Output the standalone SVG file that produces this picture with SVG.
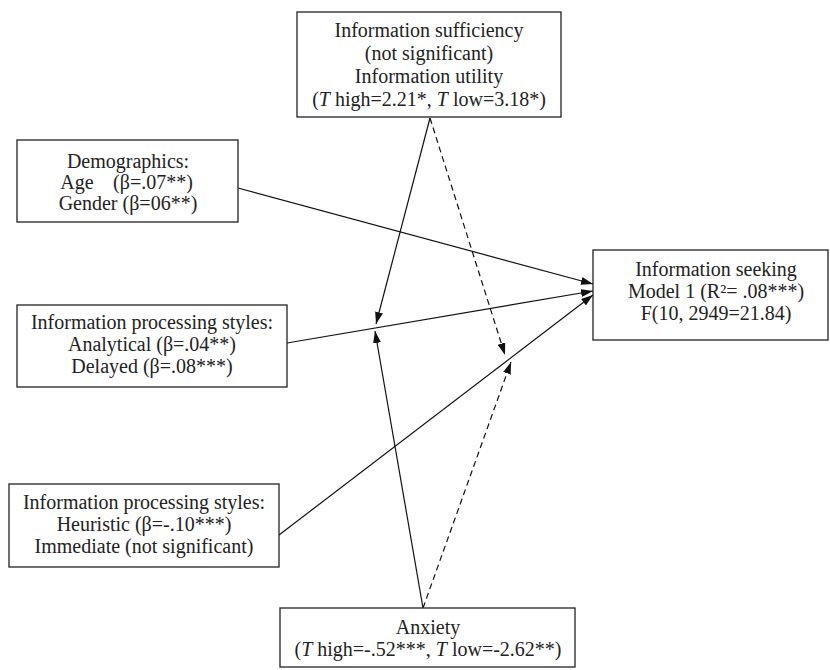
<svg xmlns="http://www.w3.org/2000/svg" width="830" height="670" viewBox="0 0 830 670">
<style>
  .box { fill: #fff; stroke: #222; stroke-width: 1.3; }
  text { font-family: "Liberation Serif", "Times New Roman", serif; font-size: 20px; fill: #222; text-anchor: middle; }
  .c { fill: none; stroke: #111; stroke-width: 1.2; }
  .d { stroke-dasharray: 6 4; }
  .i { font-style: italic; }
</style>
<defs>
  <marker id="ah" markerUnits="userSpaceOnUse" markerWidth="12" markerHeight="8" refX="12" refY="4" orient="auto">
    <path d="M0,0 L12,4 L0,8 z" fill="#111"/>
  </marker>
</defs>
<rect width="830" height="670" fill="#fff"/>
<g id="connectors">
  <path class="c" d="M238,188 L593,284" marker-end="url(#ah)"/>
  <path class="c" d="M287,343 L593,291" marker-end="url(#ah)"/>
  <path class="c" d="M279,535 L593,295" marker-end="url(#ah)"/>
  <path class="c" d="M430,118 L376,324" marker-end="url(#ah)"/>
  <path class="c" d="M423,608 L375,331" marker-end="url(#ah)"/>
  <path class="c d" d="M430,118 L505,355" marker-end="url(#ah)"/>
  <path class="c d" d="M423,608 L511,362" marker-end="url(#ah)"/>
</g>
<g id="info-sufficiency">
  <rect class="box" x="297" y="12" width="264" height="105"/>
  <text x="429" y="37">Information sufficiency</text>
  <text x="429" y="60">(not significant)</text>
  <text x="429" y="83">Information utility</text>
  <text x="429" y="106">(<tspan class="i">T</tspan> high=2.21*, <tspan class="i">T</tspan> low=3.18*)</text>
</g>
<g id="demographics">
  <rect class="box" x="17" y="140" width="221" height="82"/>
  <text x="128" y="168">Demographics:</text>
  <text x="77" y="189">Age</text>
  <text x="153" y="189">(β=.07**)</text>
  <text x="128" y="210">Gender (β=06**)</text>
</g>
<g id="processing-analytical">
  <rect class="box" x="17" y="305" width="270" height="82"/>
  <text x="152" y="329">Information processing styles:</text>
  <text x="152" y="351">Analytical (β=.04**)</text>
  <text x="152" y="373">Delayed (β=.08***)</text>
</g>
<g id="processing-heuristic">
  <rect class="box" x="9" y="484" width="270" height="83"/>
  <text x="144" y="509">Information processing styles:</text>
  <text x="144" y="531">Heuristic (β=-.10***)</text>
  <text x="144" y="553">Immediate (not significant)</text>
</g>
<g id="info-seeking">
  <rect class="box" x="593" y="250" width="235" height="90"/>
  <text x="716" y="276">Information seeking</text>
  <text x="716" y="298">Model 1 (R²= .08***)</text>
  <text x="716" y="320">F(10, 2949=21.84)</text>
</g>
<g id="anxiety">
  <rect class="box" x="280" y="608" width="295" height="59"/>
  <text x="428" y="634">Anxiety</text>
  <text x="428" y="656">(<tspan class="i">T</tspan> high=-.52***, <tspan class="i">T</tspan> low=-2.62**)</text>
</g>
</svg>
